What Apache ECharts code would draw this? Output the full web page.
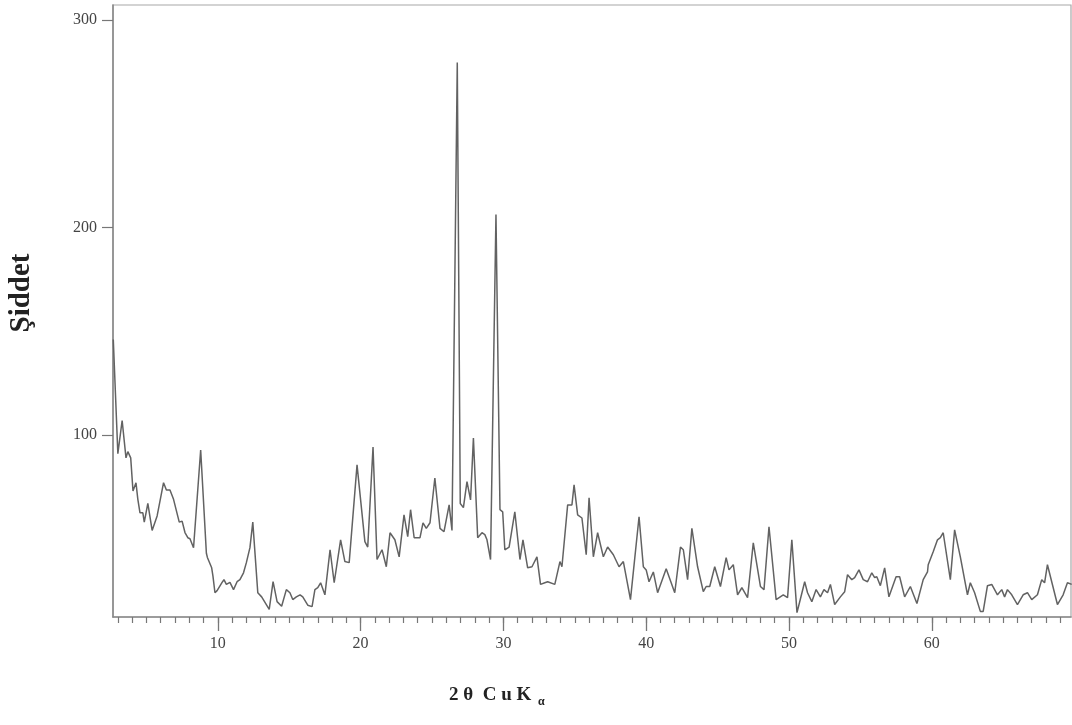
<!DOCTYPE html>
<html>
<head>
<meta charset="utf-8">
<script src="https://cdn.jsdelivr.net/npm/echarts@6/dist/echarts.min.js"></script>
<style>html,body{margin:0;padding:0;background:#fff;}#c{width:1072px;height:725px;}</style>
</head>
<body>
<div id="c"></div>
<script>
// 2θ (degrees)
const twoTheta = [
2.68,3.0,3.3,3.57,3.7,3.9,4.06,4.27,4.4,4.55,4.75,4.85,5.1,5.4,5.6,5.75,6.2,6.4,6.65,6.9,
7.3,7.5,7.7,7.9,8.05,8.3,8.8,9.2,9.27,9.57,9.66,9.8,9.95,10.3,10.43,10.6,10.85,11.1,11.35,11.55,
11.8,12.0,12.25,12.45,12.8,13.07,13.6,13.87,14.15,14.47,14.8,15.05,15.25,15.5,15.76,15.95,16.3,16.6,16.8,17.0,
17.2,17.5,17.86,18.15,18.6,18.9,19.2,19.75,20.3,20.5,20.87,21.15,21.5,21.8,22.06,22.4,22.7,23.04,23.3,23.5,
23.75,24.16,24.37,24.6,24.86,25.2,25.56,25.84,26.2,26.4,26.77,26.98,27.2,27.45,27.7,27.9,28.2,28.5,28.7,28.85,
29.1,29.48,29.76,29.95,30.1,30.4,30.8,31.16,31.37,31.7,32.0,32.35,32.6,32.9,33.1,33.6,33.96,34.1,34.5,34.8,
34.95,35.2,35.5,35.8,36.0,36.3,36.6,37.0,37.3,37.7,38.1,38.4,38.9,39.5,39.8,40.0,40.2,40.5,40.8,41.4,
42.0,42.4,42.6,42.9,43.2,43.6,44.0,44.2,44.45,44.8,45.2,45.6,45.8,46.1,46.4,46.7,47.1,47.5,48.0,48.25,
48.6,49.1,49.6,49.9,50.2,50.56,50.8,51.1,51.3,51.6,51.9,52.2,52.45,52.7,52.9,53.2,53.6,53.9,54.1,54.4,
54.6,54.9,55.2,55.5,55.8,56.0,56.15,56.4,56.7,57.0,57.5,57.75,58.1,58.5,58.96,59.4,59.7,59.75,60.1,60.4,
60.6,60.8,61.3,61.6,62.0,62.5,62.7,63.0,63.4,63.6,63.9,64.2,64.6,64.9,65.1,65.3,65.6,66.0,66.4,66.7,
67.0,67.4,67.7,67.9,68.1,68.8,69.2,69.5,69.8
];
// Şiddet (intensity)
const intensity = [
146,91,107,89,92,89,73,77,69,62.5,62.5,58,67,54,58,61,77,73.5,73.5,69,
58,58.5,53,50.5,50,45.7,92.8,43,41,36,32,24,25,29,30.3,28,29,25.5,29.3,30.3,
33.6,38.5,45.7,58,24,22,16,29.3,19.7,17.5,25.5,24,20.7,22,23,22,18,17.3,25.5,26.4,
28.8,23,44.7,28.8,49.5,39,38.5,85.6,48.6,46,94.2,40,44.7,36.5,52.9,49.5,41.3,61.5,51,64,
50.5,50.5,57.7,55,57.7,79.3,55,53.4,66.3,54,279.5,67,65,77.5,68.7,98.5,50.5,52.9,52,49.5,
40,206.3,64,63,44.7,46,63,40,49.5,36,36.5,41.3,28,28.8,29.3,28,39,36.5,66.3,66.3,
76,61.5,60,42.3,69.7,41.3,52.9,41.3,46,42.3,36.5,39,20.7,60.6,36.5,35,29.3,34,24,35.6,
24,46,44.7,30.3,55,36.5,24.5,27,27,36.5,27,40.9,35,37.5,23,26.4,21.6,48,27,25.5,
55.8,20.7,23,21.6,49.5,14.4,21,29.3,24,19.7,25.5,22,25.5,24,28,18.3,22,24.5,32.7,30.3,
31.3,35,30.3,29.3,33.6,31.3,31.7,27.4,36,22,31.7,31.7,22,27,18.8,30.3,34,37.5,43.7,49.5,
50.5,52.9,30.3,54.3,41.3,23,28.8,24,15,15,27.4,28,23,25.5,22,25.5,23,18.3,23,24,
20.7,23,30.3,28.8,37.5,18.3,23,28.8,28
];
const xMajorTicks = [10,20,30,40,50,60];
const xMinorTicks = [];
for (let v = 3; v <= 69; v++) xMinorTicks.push(v);
const yTicks = [100,200,300];

const data = twoTheta.map((x,i)=>[x,intensity[i]]);
const serif = 'Liberation Serif';
const chart = echarts.init(document.getElementById('c'));
chart.setOption({
  animation:false,
  backgroundColor:'#fff',
  grid:{left:113,right:1,top:5,bottom:108,show:true,borderColor:'#a8a8a8',borderWidth:1.2},
  xAxis:[{
    type:'value',min:2.66,max:69.75,position:'bottom',
    axisLine:{show:true,lineStyle:{color:'#8a8a8a',width:1.6}},
    axisTick:{show:true,customValues:xMajorTicks,length:14,lineStyle:{color:'#777',width:1.3}},
    axisLabel:{show:true,customValues:xMajorTicks,margin:19,color:'#444',fontFamily:serif,fontSize:16},
    splitLine:{show:false}
  },{
    type:'value',min:2.66,max:69.75,position:'bottom',offset:0,
    axisLine:{show:false},
    axisTick:{show:true,customValues:xMinorTicks,length:6,lineStyle:{color:'#777',width:1.2}},
    axisLabel:{show:false},
    splitLine:{show:false}
  }],
  yAxis:{
    type:'value',min:12.3,max:307.2,
    axisLine:{show:true,lineStyle:{color:'#8a8a8a',width:1.6}},
    axisTick:{show:true,customValues:yTicks,length:11,lineStyle:{color:'#777',width:1.2}},
    axisLabel:{show:true,customValues:yTicks,margin:16,color:'#444',fontFamily:serif,fontSize:16},
    splitLine:{show:false}
  },
  graphic:[
    {type:'text',x:22,y:293,rotation:Math.PI/2,
     style:{text:'Şiddet',align:'center',verticalAlign:'middle',fill:'#222',
            font:'bold 29px "Liberation Serif"'}},
    {type:'text',x:449,y:683,
     style:{text:'{a|2 θ  C u K}  {b|α}',align:'left',verticalAlign:'top',
            rich:{a:{fontFamily:serif,fontWeight:'bold',fontSize:19,fill:'#222',color:'#222'},
                  b:{fontFamily:serif,fontWeight:'bold',fontSize:12,fill:'#222',color:'#222',padding:[13,0,0,0]}}}}
  ],
  series:[{
    type:'line',data:data,xAxisIndex:0,yAxisIndex:0,
    showSymbol:false,symbol:'none',
    lineStyle:{color:'#626262',width:1.5},
    clip:true
  }]
});
</script>
</body>
</html>
